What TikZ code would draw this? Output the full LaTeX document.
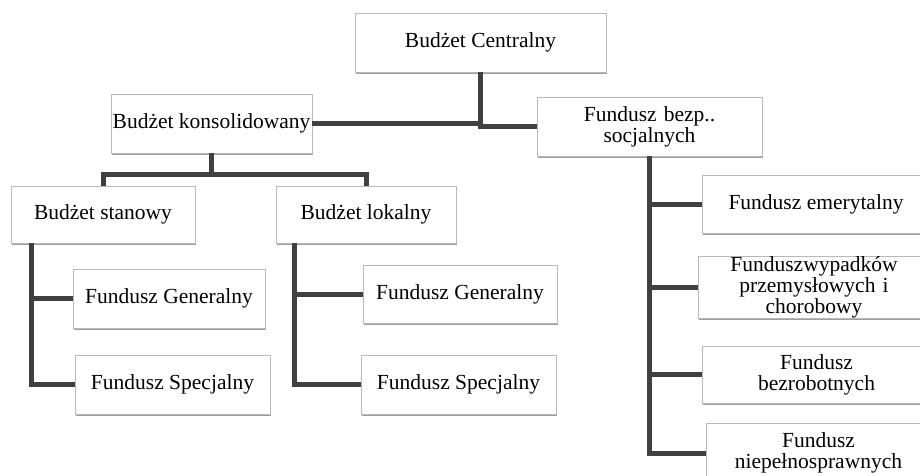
\documentclass[tikz,border=0pt]{standalone}
\usepackage{fontspec}
\setmainfont{Liberation Serif}
\usetikzlibrary{shadows}

\tikzset{
  box/.style={draw=gray!55, line width=0.8pt, fill=white, inner sep=0pt, align=center,
    font=\fontsize{21.5}{21}\selectfont,
    drop shadow={shadow xshift=0.8pt, shadow yshift=-1.6pt, fill=gray!75, opacity=1}},
  bar/.style={line width=5pt, draw=black!75}
}

\begin{document}
\begin{tikzpicture}[x=1pt, y=-1pt]
\clip (0,0) rectangle (920,476);
\fill[white] (0,0) rectangle (920,476);

\node[box, minimum width=251, minimum height=59] (cen) at (480.5,42.5) {Budżet Centralny};
\node[box, minimum width=201, minimum height=59] (kon) at (211.5,123.5) {Budżet konsolidowany};
\node[box, minimum width=225, minimum height=59, text width=210] (bez) at (649.5,126.5) {Fundusz bezp..\\socjalnych};

\node[box, minimum width=184, minimum height=57] (sta) at (103,214.5) {Budżet stanowy};
\node[box, minimum width=180, minimum height=57] (lok) at (366,214.5) {Budżet lokalny};

\node[box, minimum width=192, minimum height=59] (sgen) at (169,298.5) {Fundusz Generalny};
\node[box, minimum width=195, minimum height=59] (sspe) at (172.5,384.5) {Fundusz Specjalny};
\node[box, minimum width=194, minimum height=58] (lgen) at (460,294) {Fundusz Generalny};
\node[box, minimum width=195, minimum height=59] (lspe) at (458.5,384.5) {Fundusz Specjalny};

\node[box, minimum width=228, minimum height=58] (eme) at (816,204) {Fundusz emerytalny};
\node[box, minimum width=232, minimum height=59, text width=220] (wyp) at (814,287.5) {Funduszwypadków\\przemysłowych i\\chorobowy};
\node[box, minimum width=229, minimum height=57, text width=215] (bzr) at (816.5,374.5) {Fundusz\\bezrobotnych};
\node[box, minimum width=225, minimum height=60, text width=215] (nie) at (818.5,453) {Fundusz\\niepełnosprawnych};

% connectors
\draw[bar](cen.south) |- (kon.east);
\draw[bar](cen.south) |- (bez.west);

\path (kon.south) ++(0,21) coordinate (konbus);
\draw[bar](kon.south) -- (konbus);
\draw[bar](konbus) -| (sta.north);
\draw[bar](konbus) -| (lok.north);

\path (sta.south west) ++(21,0) coordinate (stabus);
\draw[bar](stabus) |- (sgen.west);
\draw[bar](stabus) |- (sspe.west);

\path (lok.south west) ++(19,0) coordinate (lokbus);
\draw[bar](lokbus) |- (lgen.west);
\draw[bar](lokbus) |- (lspe.west);

\draw[bar](bez.south) |- (eme.west);
\draw[bar](bez.south) |- (wyp.west);
\draw[bar](bez.south) |- (bzr.west);
\draw[bar](bez.south) |- (nie.west);

\end{tikzpicture}
\end{document}
